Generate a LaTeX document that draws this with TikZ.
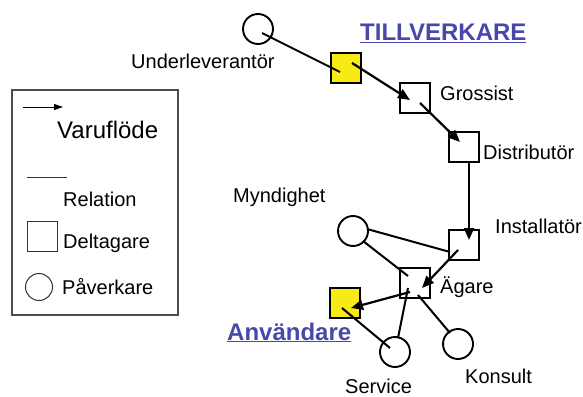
\documentclass[tikz,border=0pt]{standalone}
\usepackage{fontspec}
\setmainfont{Liberation Sans}
\usetikzlibrary{arrows.meta,positioning}
\definecolor{gul}{RGB}{248,234,20}
\definecolor{blaa}{RGB}{72,72,170}
\tikzset{
    deltagare/.style ={rectangle, draw, line width=2pt, minimum size=30pt, inner sep=0pt},
    paverkare/.style ={circle, draw, line width=1.9pt, minimum size=30pt, inner sep=0pt},
    flow/.style = {-{Triangle[length=12pt,width=10pt]}, line width=2.2pt},
    rel/.style = {line width=2pt},
    txt/.style = {anchor=base west, inner sep=0pt, font=\fontsize{20}{23}\selectfont},
    rubrik/.style = {anchor=base west, inner sep=0pt, text=blaa, font=\fontsize{24}{28}\selectfont\bfseries}
}

\begin{document}
\begin{tikzpicture}[x=1pt,y=-1pt]
    \fill[white] (0,0) rectangle (583,396);
    \useasboundingbox (0,0) rectangle (583,396);

    % aktoerer
    \node[paverkare] (1) at (258,29) {};
    \node[deltagare, fill=gul] (2) at (346,68) {};
    \node[deltagare] (3) at (415,98) {};
    \node[deltagare] (4) at (464,147) {};
    \node[deltagare] (5) at (464,245) {};
    \node[deltagare] (6) at (415,283) {};
    \node[deltagare, fill=gul] (7) at (345,303) {};
    \node[paverkare] (8) at (353,231) {};
    \node[paverkare] (9) at (395,352) {};
    \node[paverkare] (10) at (458,344) {};

    \node[txt] (l1) at (131,68) {Underleverantör};
    \node[rubrik] (l2) at (360,41) {\underline{TILLVERKARE}};
    \node[txt] (l3) at (440,100) {Grossist};
    \node[txt] (l4) at (483,159) {Distributör};
    \node[txt] (l5) at (233,202) {Myndighet};
    \node[txt] (l6) at (495,233) {Installatör};
    \node[txt] (l7) at (440,293) {Ägare};
    \node[rubrik] (l8) at (227,340) {\underline{Användare}};
    \node[txt] (l9) at (345,393) {Service};
    \node[txt] (l10) at (465,383) {Konsult};

    % varufloede
    \path[flow] ([shift={(6,-5)}]2.center) edge ([shift={(-5,2)}]3.center);
    \path[flow] ([shift={(5,5)}]3.center) edge ([shift={(-4,-5)}]4.center);
    \path[flow] ([shift={(5,0)}]4.south) edge ([shift={(5,-5)}]5.center);
    \path[flow] ([shift={(-6,5)}]5.center) edge ([shift={(7,5)}]6.center);
    \path[flow] ([shift={(-5,9)}]6.center) edge ([shift={(6,5)}]7.center);

    % relationer
    \path[rel] ([shift={(4,4)}]1.center) edge ([shift={(-6,4)}]2.center);
    \path[rel] ([shift={(14,-2)}]8.center) edge ([shift={(-14,7)}]5.center);
    \path[rel] ([shift={(10,10)}]8.center) edge ([shift={(-7,-7)}]6.center);
    \path[rel] ([shift={(-7,5)}]6.center) edge ([shift={(3,-14)}]9.center);
    \path[rel] ([shift={(3,12)}]6.center) edge ([shift={(-8,-11)}]10.center);
    \path[rel] ([shift={(-3,5)}]7.center) edge ([shift={(-5,-4)}]9.center);

    % teckenfoerklaring
    \draw[line width=1.3pt, black!70] (12,90) rectangle (178,315);
    \coordinate (a1) at (23,107);
    \coordinate (a2) at (63,107);
    \draw[-{Triangle[length=9pt,width=6pt]}, line width=1pt] (a1) -- (a2);
    \node[txt, font=\fontsize{24}{27}\selectfont] (t1) at (57,138) {Varuflöde};
    \coordinate (r1) at (27,177);
    \coordinate (r2) at (67,177);
    \draw[line width=1pt, black!80] (r1) -- (r2);
    \node[txt] (t2) at (63,206) {Relation};
    \node[rectangle, draw, line width=1pt, black!80, minimum size=30pt] (d1) at (42,236) {};
    \node[txt] (t3) at (63,248) {Deltagare};
    \node[circle, draw, line width=1pt, black!80, minimum size=27pt] (p1) at (39,287) {};
    \node[txt] (t4) at (62,294) {Påverkare};
\end{tikzpicture}
\end{document}
